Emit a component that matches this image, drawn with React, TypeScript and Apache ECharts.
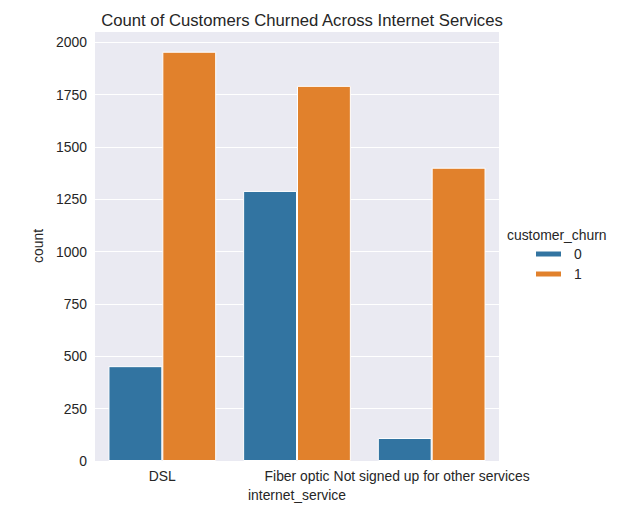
import React, { useEffect, useRef } from "react";
import * as echarts from "echarts";

const categories = ["DSL", "Fiber optic", "Not signed up for other services"];
const churn0 = [453, 1290, 110];
const churn1 = [1955, 1792, 1401];
const seriesNames = ["0", "1"];

export default function App() {
  const ref = useRef<HTMLDivElement>(null);
  useEffect(() => {
    const chart = echarts.init(ref.current!, null, { renderer: "svg" });
    const font = "Liberation Sans, Arial, sans-serif";
    const fs = 13.9;
    chart.setOption({
      animation: false,
      backgroundColor: "#ffffff",
      title: {
        text: "Count of Customers Churned Across Internet Services",
        left: 297,
        top: 7,
        textAlign: "center",
        textStyle: { fontFamily: font, fontSize: 16.7, fontWeight: "normal", color: "#262626" },
      },
      grid: { left: 95, right: 126, top: 31, bottom: 61, backgroundColor: "#eaeaf2", show: true, borderWidth: 0 },
      legend: {
        orient: "vertical",
        left: 534,
        top: 247,
        padding: 0,
        itemWidth: 27,
        itemHeight: 7,
        itemGap: 6,
        icon: "rect",
        data: seriesNames,
        textStyle: { fontFamily: font, fontSize: fs, color: "#262626", padding: [0, 0, 0, 7], lineHeight: 14 },
      },
      graphic: [
        {
          type: "text",
          left: 507,
          top: 228,
          style: { text: "customer_churn", font: `${fs}px ${font}`, fill: "#262626" },
        },
      ],
      xAxis: {
        type: "category",
        data: categories,
        name: "internet_service",
        nameLocation: "middle",
        nameGap: 26,
        nameTextStyle: { fontFamily: font, fontSize: fs, color: "#262626" },
        axisLine: { show: false },
        axisTick: { show: false },
        axisLabel: { interval: 0, fontFamily: font, fontSize: fs, color: "#262626", margin: 8 },
        splitLine: { show: false },
      },
      yAxis: {
        type: "value",
        min: 0,
        max: 2054,
        interval: 250,
        name: "count",
        nameLocation: "middle",
        nameGap: 50,
        nameTextStyle: { fontFamily: font, fontSize: fs, color: "#262626" },
        axisLine: { show: false },
        axisTick: { show: false },
        axisLabel: {
          fontFamily: font,
          fontSize: fs,
          color: "#262626",
          margin: 8,
          formatter: (v: number) => (v % 250 === 0 ? String(v) : ""),
        },
        splitLine: { lineStyle: { color: "#ffffff", width: 1 } },
      },
      series: [
        {
          name: seriesNames[0],
          type: "bar",
          data: churn0,
          barGap: "0%",
          barCategoryGap: "20%",
          itemStyle: { color: "#3274a1", borderColor: "#ffffff", borderWidth: 1 },
        },
        {
          name: seriesNames[1],
          type: "bar",
          data: churn1,
          barGap: "0%",
          barCategoryGap: "20%",
          itemStyle: { color: "#e1812c", borderColor: "#ffffff", borderWidth: 1 },
        },
      ],
    });
    return () => chart.dispose();
  }, []);
  return <div ref={ref} style={{ position: "fixed", left: 0, top: 0, width: 625, height: 522 }} />;
}
